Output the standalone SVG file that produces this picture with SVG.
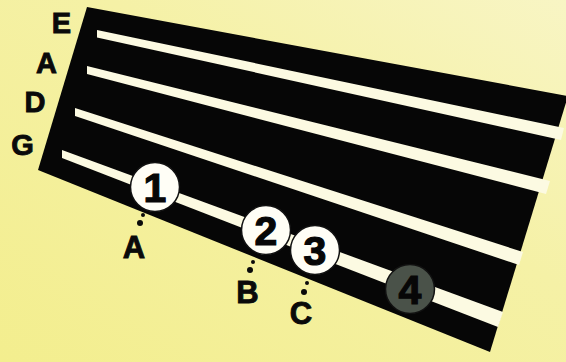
<svg xmlns="http://www.w3.org/2000/svg" width="566" height="362" viewBox="0 0 566 362">
  <defs>
    <linearGradient id="bg" x1="0" y1="1" x2="1" y2="0">
      <stop offset="0" stop-color="#f3ee8e"/>
      <stop offset="0.6" stop-color="#f5f1a6"/>
      <stop offset="1" stop-color="#f8f5c4"/>
    </linearGradient>
    <style>
      .board { fill: #060606; }
      .string { fill: #fcfae2; }
      .lbl { font-family: "Liberation Sans", Arial, sans-serif; font-weight: bold; fill: #0a0a0a; stroke: #0a0a0a; stroke-width: 0.9; text-anchor: middle; }
      .side { font-size: 29px; }
      .note { font-size: 31px; }
      .finger { stroke: #111; stroke-width: 1.5; }
      .white { fill: #fffef6; }
      .dark { fill: #4a5249; }
      .num { font-family: "Liberation Sans", Arial, sans-serif; font-weight: bold; font-size: 41px; fill: #070707; stroke: #070707; stroke-width: 1.2; text-anchor: middle; }
      .dot { fill: #0a0a0a; }
    </style>
  </defs>

  <rect x="0" y="0" width="566" height="362" fill="url(#bg)"/>

  <g id="fretboard">
    <polygon class="board" points="87,7 568,96 490,352 38,170"/>
    <polygon id="string-E" class="string" points="97,30 564,128 561,140 97,37.5"/>
    <polygon id="string-A" class="string" points="87,66 550,181 546,194 87,74"/>
    <polygon id="string-D" class="string" points="75,108 523,252 519,265 75,116"/>
    <polygon id="string-G" class="string" points="62,150 503,312 498,327 62,158"/>
  </g>

  <g id="string-labels">
    <g id="label-E"><text class="lbl side" x="61.5" y="33">E</text></g>
    <g id="label-A"><text class="lbl side" x="46.5" y="73">A</text></g>
    <g id="label-D"><text class="lbl side" x="35" y="112">D</text></g>
    <g id="label-G"><text class="lbl side" x="22.5" y="155">G</text></g>
  </g>

  <g id="connectors">
    <circle class="dot" cx="143" cy="215" r="2"/>
    <circle class="dot" cx="140" cy="223" r="3"/>
    <circle class="dot" cx="253" cy="262" r="2"/>
    <circle class="dot" cx="250" cy="270" r="3"/>
    <circle class="dot" cx="307" cy="283" r="2"/>
    <circle class="dot" cx="304" cy="292" r="3"/>
  </g>

  <g id="finger-1">
    <circle class="finger white" cx="155" cy="187" r="24.5"/>
    <text class="num" x="155" y="201.5">1</text>
  </g>
  <g id="finger-2">
    <circle class="finger white" cx="266" cy="230" r="24.5"/>
    <text class="num" x="266" y="244.5">2</text>
  </g>
  <g id="finger-3">
    <circle class="finger white" cx="315" cy="250" r="24.5"/>
    <text class="num" x="315" y="264.5">3</text>
  </g>
  <g id="finger-4">
    <circle class="finger dark" cx="410" cy="289" r="24.5"/>
    <text class="num" x="410" y="303.5">4</text>
  </g>

  <g id="note-labels">
    <g id="note-A"><text class="lbl note" x="134" y="258">A</text></g>
    <g id="note-B"><text class="lbl note" x="247.5" y="303">B</text></g>
    <g id="note-C"><text class="lbl note" x="301" y="324">C</text></g>
  </g>
</svg>
